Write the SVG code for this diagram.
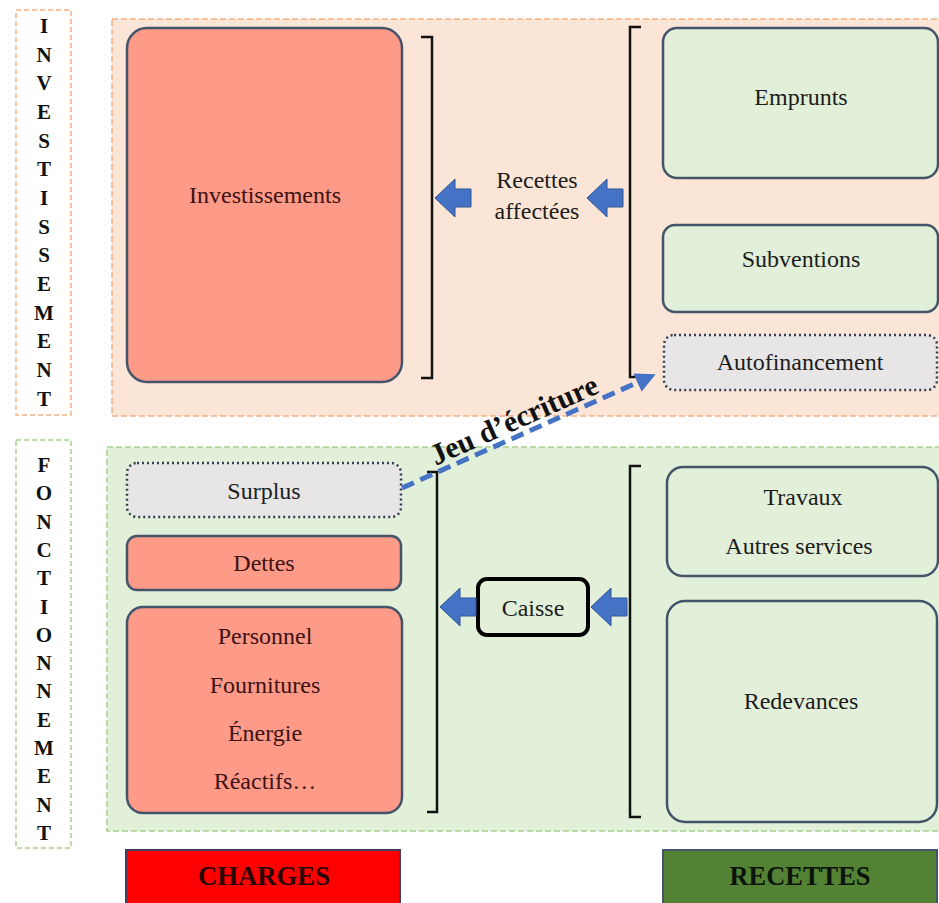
<svg xmlns="http://www.w3.org/2000/svg" width="939" height="903" viewBox="0 0 939 903" font-family="'Liberation Serif', 'DejaVu Serif', serif">
<style>
.lbl{font-family:"Liberation Serif","DejaVu Serif",serif;font-size:24px;text-anchor:middle;fill:#1c1c1c;}
.lblr{font-family:"Liberation Serif","DejaVu Serif",serif;font-size:24px;text-anchor:middle;fill:#3d1212;}
.vert{font-family:"Liberation Serif","DejaVu Serif",serif;font-size:21px;font-weight:bold;text-anchor:middle;fill:#111;}
.big{font-family:"Liberation Serif","DejaVu Serif",serif;font-weight:bold;text-anchor:middle;}
.sal{fill:#fd9a88;stroke:#44546a;stroke-width:2.5;}
.grn{fill:#e2efd9;stroke:#44546a;stroke-width:2.5;}
.dot{fill:#e7e5e6;stroke:#333f50;stroke-width:2.5;stroke-dasharray:2 3;}
.brk{fill:none;stroke:#111;stroke-width:2.5;}
.arr{fill:#4472c4;stroke:#2f5597;stroke-width:1;}
</style>
<defs>
<path id="larr" d="M0,0 L20,-19 L20,-9 L36,-9 L36,9 L20,9 L20,19 Z"/>
<marker id="head" viewBox="0 0 10 10" refX="8" refY="5" markerWidth="4" markerHeight="4" orient="auto" markerUnits="strokeWidth">
<path d="M0,0 L10,5 L0,10 Z" fill="#4472c4"/>
</marker>
</defs>
<rect width="939" height="903" fill="#ffffff"/>

<g id="panel-investissement">
<rect x="112" y="19" width="835" height="397" fill="#fbe5d6" stroke="#f4b183" stroke-width="1.5" stroke-dasharray="6 3"/>
</g>
<g id="panel-fonctionnement">
<rect x="107" y="447" width="840" height="384" fill="#e2efd9" stroke="#a9d18e" stroke-width="1.5" stroke-dasharray="6 3"/>
</g>

<g id="label-investissement">
<rect x="16" y="10" width="55" height="405" fill="#ffffff" stroke="#f4b183" stroke-width="1.5" stroke-dasharray="5 3"/>
<text class="vert" x="44" y="33">I</text>
<text class="vert" x="44" y="62">N</text>
<text class="vert" x="44" y="90">V</text>
<text class="vert" x="44" y="119">E</text>
<text class="vert" x="44" y="148">S</text>
<text class="vert" x="44" y="176">T</text>
<text class="vert" x="44" y="205">I</text>
<text class="vert" x="44" y="234">S</text>
<text class="vert" x="44" y="262">S</text>
<text class="vert" x="44" y="291">E</text>
<text class="vert" x="44" y="320">M</text>
<text class="vert" x="44" y="348">E</text>
<text class="vert" x="44" y="377">N</text>
<text class="vert" x="44" y="406">T</text>
</g>
<g id="label-fonctionnement">
<rect x="16" y="440" width="55" height="408" fill="#ffffff" stroke="#a9d18e" stroke-width="1.5" stroke-dasharray="5 3"/>
<text class="vert" x="44" y="472">F</text>
<text class="vert" x="44" y="500">O</text>
<text class="vert" x="44" y="529">N</text>
<text class="vert" x="44" y="557">C</text>
<text class="vert" x="44" y="585">T</text>
<text class="vert" x="44" y="614">I</text>
<text class="vert" x="44" y="642">O</text>
<text class="vert" x="44" y="670">N</text>
<text class="vert" x="44" y="698">N</text>
<text class="vert" x="44" y="727">E</text>
<text class="vert" x="44" y="755">M</text>
<text class="vert" x="44" y="783">E</text>
<text class="vert" x="44" y="812">N</text>
<text class="vert" x="44" y="840">T</text>
</g>

<g id="investissements">
<rect class="sal" x="127" y="28" width="275" height="354" rx="20"/>
<text class="lblr" x="265" y="203">Investissements</text>
</g>
<g id="emprunts">
<rect class="grn" x="663" y="28" width="275" height="150" rx="14"/>
<text class="lbl" x="801" y="105">Emprunts</text>
</g>
<g id="subventions">
<rect class="grn" x="663" y="225" width="275" height="87" rx="12"/>
<text class="lbl" x="801" y="267">Subventions</text>
</g>
<g id="autofinancement">
<rect class="dot" x="664" y="335" width="273" height="55" rx="10"/>
<text class="lbl" x="800" y="370">Autofinancement</text>
</g>
<g id="recettes-affectees">
<text class="lbl" x="537" y="188">Recettes</text>
<text class="lbl" x="537" y="219">affectées</text>
</g>

<g id="surplus">
<rect class="dot" x="127" y="463" width="274" height="54" rx="10"/>
<text class="lbl" x="264" y="499">Surplus</text>
</g>
<g id="dettes">
<rect class="sal" x="127" y="536" width="274" height="54" rx="10"/>
<text class="lblr" x="264" y="571">Dettes</text>
</g>
<g id="personnel">
<rect class="sal" x="127" y="607" width="275" height="206" rx="16"/>
<text class="lblr" x="265" y="644">Personnel</text>
<text class="lblr" x="265" y="693">Fournitures</text>
<text class="lblr" x="265" y="741">Énergie</text>
<text class="lblr" x="265" y="789">Réactifs…</text>
</g>
<g id="caisse">
<rect x="478" y="579" width="110" height="56" rx="9" fill="#e2efd9" stroke="#000" stroke-width="4"/>
<text class="lbl" x="533" y="616">Caisse</text>
</g>
<g id="travaux">
<rect class="grn" x="667" y="467" width="271" height="109" rx="16"/>
<text class="lbl" x="803" y="505">Travaux</text>
<text class="lbl" x="799" y="554">Autres services</text>
</g>
<g id="redevances">
<rect class="grn" x="667" y="601" width="270" height="221" rx="18"/>
<text class="lbl" x="801" y="709">Redevances</text>
</g>

<g id="charges">
<rect x="126" y="850" width="274" height="60" fill="#ff0000" stroke="#3f3f5a" stroke-width="2"/>
<text class="big" x="264" y="885" font-size="27" textLength="132" lengthAdjust="spacingAndGlyphs" fill="#2a0505">CHARGES</text>
</g>
<g id="recettes">
<rect x="663" y="850" width="274" height="60" fill="#548235" stroke="#44546a" stroke-width="2"/>
<text class="big" x="800" y="885" font-size="27" textLength="141" lengthAdjust="spacingAndGlyphs" fill="#0a140a">RECETTES</text>
</g>

<g id="connectors">
<path class="brk" d="M421,37 H432 V378 H421"/>
<path class="brk" d="M641,27 H630 V377 H641"/>
<path class="brk" d="M427,472 H437 V812 H427"/>
<path class="brk" d="M641,466 H630 V817 H641"/>
<use href="#larr" class="arr" x="435" y="198"/>
<use href="#larr" class="arr" x="587" y="198"/>
<use href="#larr" class="arr" x="440" y="607"/>
<use href="#larr" class="arr" x="591" y="607"/>
<line x1="402" y1="488" x2="652" y2="376" stroke="#4472c4" stroke-width="5" stroke-dasharray="13 7" marker-end="url(#head)"/>
<text class="big" x="518" y="429" font-size="30" fill="#111" transform="rotate(-24 518 429)">Jeu d’écriture</text>
</g>
</svg>
